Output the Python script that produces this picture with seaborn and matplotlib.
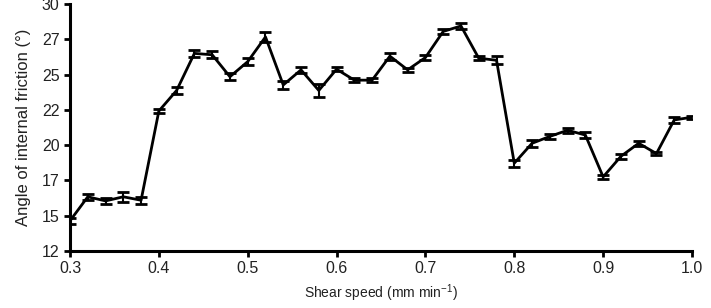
import numpy as np
import pandas as pd
import matplotlib
matplotlib.use("Agg")
import matplotlib.pyplot as plt
import seaborn as sns

# Data
shear_speed = [0.30, 0.32, 0.34, 0.36, 0.38, 0.40, 0.42, 0.44, 0.46, 0.48,
               0.50, 0.52, 0.54, 0.56, 0.58, 0.60, 0.62, 0.64, 0.66, 0.68,
               0.70, 0.72, 0.74, 0.76, 0.78, 0.80, 0.82, 0.84, 0.86, 0.88,
               0.90, 0.92, 0.94, 0.96, 0.98, 1.00]
friction_angle = [14.2, 15.95, 15.65, 15.95, 15.7, 22.2, 23.7, 26.4, 26.3, 24.7,
                  25.8, 27.6, 24.1, 25.2, 23.7, 25.25, 24.45, 24.45, 26.2, 25.2,
                  26.1, 28.0, 28.4, 26.05, 25.9, 18.4, 19.85, 20.35, 20.8, 20.45,
                  17.4, 18.9, 19.85, 19.1, 21.55, 21.75]
error = [0.2, 0.2, 0.2, 0.35, 0.25, 0.15, 0.25, 0.25, 0.25, 0.25,
         0.25, 0.35, 0.3, 0.2, 0.5, 0.15, 0.15, 0.15, 0.25, 0.15,
         0.2, 0.2, 0.2, 0.15, 0.3, 0.25, 0.25, 0.2, 0.2, 0.2,
         0.15, 0.2, 0.2, 0.1, 0.2, 0.1]

x_ticks = [0.3, 0.4, 0.5, 0.6, 0.7, 0.8, 0.9, 1.0]
x_tick_labels = ['0.3', '0.4', '0.5', '0.6', '0.7', '0.8', '0.9', '1.0']
y_tick_labels = ['12', '15', '17', '20', '22', '25', '27', '30']

df = pd.DataFrame({'speed': shear_speed, 'angle': friction_angle, 'err': error})

sns.set_style("ticks")
plt.rcParams['font.family'] = ['Liberation Sans', 'DejaVu Sans']
plt.rcParams['mathtext.default'] = 'regular'

fig = plt.figure(figsize=(7.11, 3.08), dpi=100)
ax = fig.add_axes([70 / 711, 1 - 251 / 308, 622 / 711, 247 / 308])

sns.lineplot(data=df, x='speed', y='angle', color='black', linewidth=2, ax=ax)
ax.errorbar(df['speed'], df['angle'], yerr=df['err'], fmt='none',
            ecolor='black', elinewidth=1.5, capsize=4, capthick=2)

ax.set_xlim(0.3, 1.0)
ax.set_ylim(12, 30)
ax.set_xticks(x_ticks)
ax.set_xticklabels(x_tick_labels)
ax.set_yticks(np.linspace(12, 30, len(y_tick_labels)))
ax.set_yticklabels(y_tick_labels)

ax.set_xlabel('Shear speed (mm min$^{-1}$)', fontsize=10, labelpad=4,
              color='#222222')
ax.set_ylabel('Angle of internal friction (°)', fontsize=12, labelpad=8,
              color='#222222')
ax.tick_params(axis='both', labelsize=11.5, width=2, length=4, color='black',
               labelcolor='#222222', direction='out')

sns.despine(ax=ax)
for side in ['left', 'bottom']:
    ax.spines[side].set_linewidth(2.2)
    ax.spines[side].set_color('black')

fig.savefig('out.png', dpi=100)
